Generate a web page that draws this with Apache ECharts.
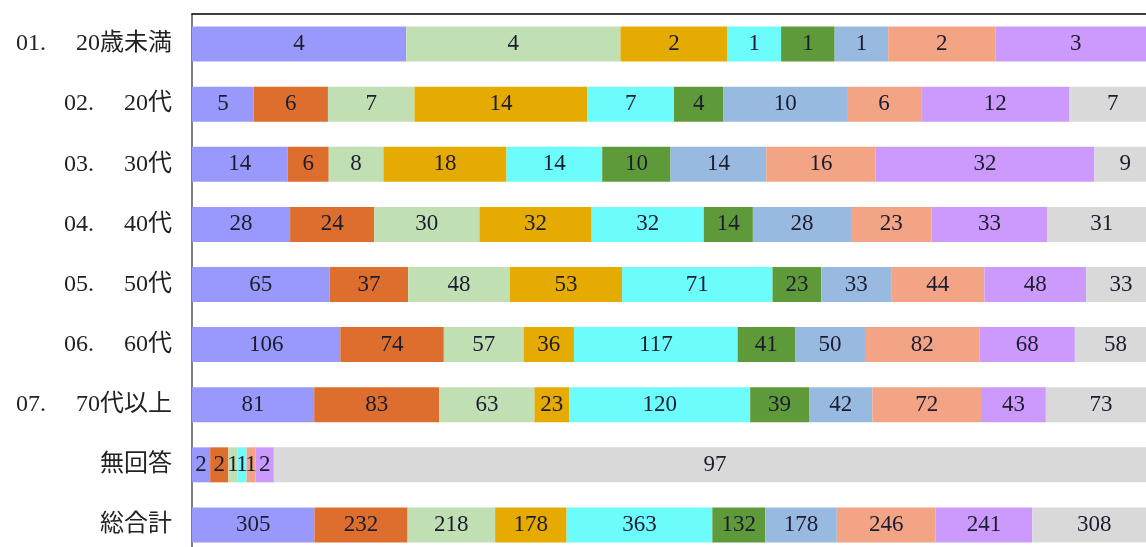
<!DOCTYPE html>
<html><head><meta charset="utf-8">
<script src="https://cdn.jsdelivr.net/npm/echarts@6/dist/echarts.min.js"></script>
<style>html,body{margin:0;padding:0;background:#fff;overflow:hidden}#c{width:1146px;height:547px}</style>
</head><body><div id="c"></div>
<script>
const categories = ['01.　 20歳未満','02.　 20代','03.　 30代','04.　 40代','05.　 50代','06.　 60代','07.　 70代以上','無回答','総合計'];
const seriesNames = ['回答1','回答2','回答3','回答4','回答5','回答6','回答7','回答8','回答9','回答10'];
const colors = ['#9999fc','#dd6e2d','#c0e0b4','#e6ab00','#6cfcfc','#5f9a3a','#99bae0','#f2a485','#cc99fc','#d9d9d9'];
const s1  = [4, 5, 14, 28, 65, 106, 81, 2, 305];
const s2  = [0, 6, 6, 24, 37, 74, 83, 2, 232];
const s3  = [4, 7, 8, 30, 48, 57, 63, 1, 218];
const s4  = [2, 14, 18, 32, 53, 36, 23, 0, 178];
const s5  = [1, 7, 14, 32, 71, 117, 120, 1, 363];
const s6  = [1, 4, 10, 14, 23, 41, 39, 0, 132];
const s7  = [1, 10, 14, 28, 33, 50, 42, 0, 178];
const s8  = [2, 6, 16, 23, 44, 82, 72, 1, 246];
const s9  = [3, 12, 32, 33, 48, 68, 43, 2, 241];
const s10 = [0, 7, 9, 31, 33, 58, 73, 97, 308];
const all = [s1,s2,s3,s4,s5,s6,s7,s8,s9,s10];
const totals = categories.map((_, i) => all.reduce((a, s) => a + s[i], 0));

const chart = echarts.init(document.getElementById('c'));
chart.setOption({
  animation: false,
  grid: { left: 192, top: 14, width: 964, height: 541, containLabel: false, outerBoundsMode: 'none' },
  xAxis: { type: 'value', position: 'top', min: 0, max: 1,
    axisLine: { show: true, lineStyle: { color: '#000', width: 1.5 } },
    axisTick: { show: false }, axisLabel: { show: false }, splitLine: { show: false } },
  yAxis: { type: 'category', inverse: true, data: categories,
    axisLine: { show: true, lineStyle: { color: '#555', width: 1.5 } },
    axisTick: { show: false },
    axisLabel: { margin: 20, fontSize: 24, color: '#222', fontFamily: '"Liberation Serif","Noto Sans CJK JP",serif' } },
  series: all.map((s, k) => ({
    name: seriesNames[k], type: 'bar', stack: 'total', barWidth: 35,
    itemStyle: { color: colors[k] },
    label: { show: true, position: 'inside', color: '#1c1c30', fontSize: 23,
      fontFamily: '"Liberation Serif",serif',
      formatter: p => s[p.dataIndex] > 0 ? String(s[p.dataIndex]) : '' },
    data: s.map((v, i) => v / totals[i])
  }))
});
</script></body></html>
